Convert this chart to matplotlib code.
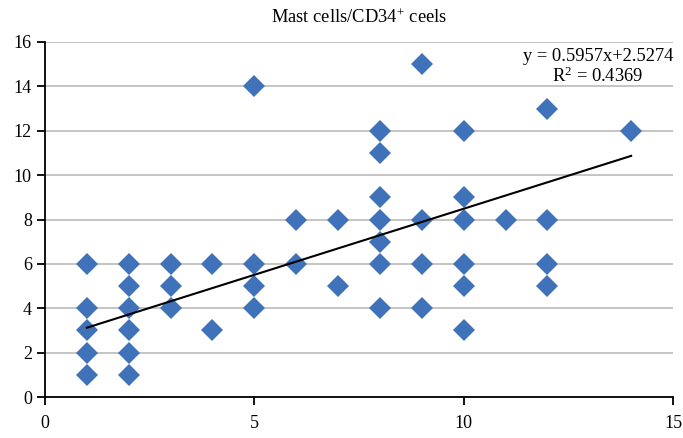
import matplotlib
matplotlib.use("Agg")
import matplotlib.pyplot as plt
import numpy as np

plt.rcParams['font.family'] = ['Liberation Serif', 'DejaVu Serif']
plt.rcParams['mathtext.fontset'] = 'stix'

x_vals = [1, 1, 1, 1, 1,
          2, 2, 2, 2, 2, 2,
          3, 3, 3,
          4, 4,
          5, 5, 5, 5,
          6, 6,
          7, 7,
          8, 8, 8, 8, 8, 8, 8,
          9, 9, 9, 9,
          10, 10, 10, 10, 10, 10,
          11,
          12, 12, 12, 12,
          14]
y_vals = [6, 4, 3, 2, 1,
          6, 5, 4, 3, 2, 1,
          6, 5, 4,
          6, 3,
          14, 6, 5, 4,
          8, 6,
          8, 5,
          12, 11, 9, 8, 7, 6, 4,
          15, 8, 6, 4,
          12, 9, 8, 6, 5, 3,
          8,
          13, 8, 6, 5,
          12]
slope = 0.5957
intercept = 2.5274
r2 = 0.4369
title = "Mast cells/CD34$^{\\mathregular{+}}$ ceels"
x_ticks = [0, 5, 10, 15]
y_ticks = [0, 2, 4, 6, 8, 10, 12, 14, 16]

fig = plt.figure(figsize=(6.83, 4.38), dpi=100)
ax = fig.add_axes([45 / 683, 41 / 438, 628 / 683, 355 / 438])

ax.set_xlim(0, 15)
ax.set_ylim(0, 16)
ax.set_yticks(y_ticks)
ax.set_xticks(x_ticks)
ax.grid(axis='y', color='#BFBFBF', linewidth=1.3, zorder=0)
ax.set_axisbelow(True)

ax.plot(x_vals, y_vals, linestyle='none', marker='D', markersize=11.5,
        color='#3F72B9', markeredgewidth=0, zorder=3)

xl = np.array([min(x_vals), max(x_vals)])
ax.plot(xl, slope * xl + intercept, color='black', linewidth=1.5, zorder=4)

for s in ['top', 'right']:
    ax.spines[s].set_visible(False)
for s in ['left', 'bottom']:
    ax.spines[s].set_color('black')
    ax.spines[s].set_linewidth(1.3)
ax.tick_params(axis='both', direction='out', length=6, width=1.3, labelsize=13, colors='black')
ax.tick_params(axis='x', pad=7)

ax.set_title(title, fontsize=13.3, pad=14)
ax.text(1.0, 0.982, f"y = {slope}x+{intercept}\n$\\mathregular{{R^{{2}}}}$ = {r2}",
        transform=ax.transAxes, ha='right', va='top', fontsize=13.3,
        multialignment='center', linespacing=1.05)

fig.savefig("out.png", dpi=100)
